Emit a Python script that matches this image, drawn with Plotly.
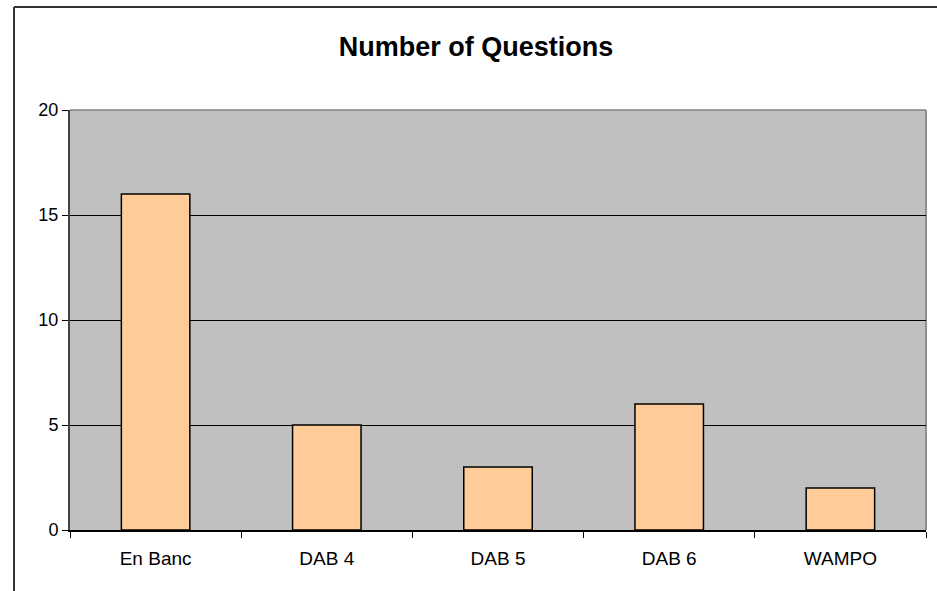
import plotly.graph_objects as go

categories = ["En Banc", "DAB 4", "DAB 5", "DAB 6", "WAMPO"]
values = [16, 5, 3, 6, 2]
y_ticks = [0, 5, 10, 15, 20]
title_text = "Number of Questions"

W, H = 937, 591
L, R, T, B = 70, 11, 110, 61
pw = W - L - R
ph = H - T - B

fig = go.Figure()
fig.add_trace(go.Bar(
    x=categories, y=values,
    marker=dict(color="#FFCC99", line=dict(color="#000000", width=1.5)),
    width=0.4,
))

# outer chart border (left and top edges visible)
bx = (14 - L) / pw
by = (H - B - 7) / ph
fig.add_shape(type="line", xref="paper", yref="paper", x0=bx, x1=bx, y0=-0.5, y1=by,
              line=dict(color="#333333", width=2), layer="above")
fig.add_shape(type="line", xref="paper", yref="paper", x0=bx, x1=1.2, y0=by, y1=by,
              line=dict(color="#333333", width=2), layer="above")
# plot area border top/right in gray
fig.add_shape(type="line", xref="paper", yref="paper", x0=0, x1=1, y0=1, y1=1,
              line=dict(color="#808080", width=1.5), layer="below")
fig.add_shape(type="line", xref="paper", yref="paper", x0=1, x1=1, y0=0, y1=1,
              line=dict(color="#909090", width=2), layer="below")

fig.update_layout(
    width=W, height=H,
    margin=dict(l=L, r=R, t=T, b=B),
    paper_bgcolor="white",
    plot_bgcolor="#C0C0C0",
    showlegend=False,
    font=dict(family="Liberation Sans, Arial", color="#000000", size=19),
    title=dict(text="<b>" + title_text + "</b>", x=476 / W, xanchor="center",
               y=1 - 47 / H, yanchor="middle", font=dict(size=27)),
    bargap=0.6,
)
fig.update_xaxes(
    type="category", showline=True, linecolor="#000000", linewidth=1.5,
    ticks="outside", ticklen=6, tickcolor="#000000", tickwidth=1,
    tickson="boundaries", showgrid=False, ticklabelstandoff=10,
)
fig.update_yaxes(
    range=[0, 20], tickvals=y_ticks, showline=True, linecolor="#444444", linewidth=2,
    ticks="outside", ticklen=6, tickcolor="#000000", tickwidth=1,
    showgrid=True, gridcolor="#000000", gridwidth=1, zeroline=False,
    tickfont=dict(size=18),
)

fig.write_html("out.html", config={"displayModeBar": False},
               post_script="document.body.style.margin='0';")
